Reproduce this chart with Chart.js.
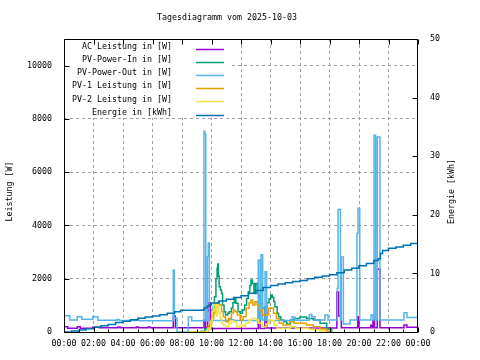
<!doctype html>
<html>
<head>
<title>Tagesdiagramm</title>
<script src="https://cdn.jsdelivr.net/npm/chart.js"></script>
<style>html, body { margin: 0; padding: 0; background: #fff; }</style>
</head>
<body>
<canvas id="tagesdiagramm" width="480" height="360"></canvas>
<script>
// Zeitpunkte in Stunden, Leistung in W, Energie in kWh (Treppenwerte)
const acZeit = [0, 0.25, 0.9, 1.1, 1.95, 2.4, 3.65, 3.8, 4.9, 5.05, 5.7, 5.85, 7.41, 7.55, 9.49, 9.6, 9.74, 9.83, 9.92, 13.17, 13.29, 13.62, 13.74, 18.5, 18.62, 18.8, 19.91, 20.0, 20.8, 20.88, 20.95, 21.05, 21.24, 21.42, 23.05, 23.25, 24];
const acWert = [200, 140, 200, 140, 180, 160, 190, 160, 190, 160, 190, 160, 600, 160, 450, 160, 800, 1100, 130, 900, 130, 950, 150, 1500, 600, 160, 575, 160, 250, 160, 450, 160, 2360, 160, 260, 180, 180];

const inZeit = [8.43, 9.3, 9.55, 9.75, 9.95, 10.05, 10.12, 10.2, 10.3, 10.38, 10.42, 10.47, 10.52, 10.6, 10.68, 10.75, 10.85, 10.95, 11.1, 11.2, 11.35, 11.45, 11.55, 11.65, 11.8, 11.95, 12.1, 12.25, 12.38, 12.5, 12.6, 12.68, 12.78, 12.88, 12.98, 13.1, 13.2, 13.3, 13.45, 13.6, 13.75, 13.9, 14.02, 14.12, 14.22, 14.3, 14.45, 14.55, 14.7, 14.9, 15.1, 15.35, 15.6, 16.0, 16.45, 16.9, 17.36, 17.81, 18.15];
const inWert = [0, 30, 120, 200, 380, 700, 950, 1320, 2000, 2390, 2550, 2100, 1700, 1575, 1450, 1010, 760, 640, 700, 760, 900, 1100, 1260, 1075, 760, 700, 825, 1010, 1260, 1510, 1750, 1950, 1825, 1450, 1825, 1450, 1390, 1075, 900, 950, 1100, 1250, 1390, 1300, 1140, 950, 700, 575, 450, 385, 300, 450, 510, 560, 510, 450, 325, 110, 0];

const outZeit = [0, 0.4, 0.9, 1.2, 1.95, 2.3, 3.6, 3.75, 4.9, 5.1, 7.41, 7.48, 7.66, 8.43, 8.66, 9.49, 9.55, 9.61, 9.72, 9.78, 9.85, 11.2, 11.5, 13.17, 13.29, 13.36, 13.47, 13.63, 13.74, 15.45, 15.65, 16.63, 16.79, 17.02, 17.69, 17.9, 18.53, 18.58, 18.74, 18.8, 18.94, 19.39, 19.86, 19.93, 20.05, 20.81, 20.95, 21.02, 21.13, 21.24, 21.42, 23.05, 23.25, 24];
const outWert = [610, 450, 575, 480, 575, 440, 470, 430, 450, 420, 2330, 520, 0, 560, 420, 7540, 7420, 420, 2820, 3340, 430, 460, 430, 2700, 450, 2900, 450, 2260, 430, 560, 440, 660, 575, 450, 640, 450, 1640, 4600, 450, 2820, 300, 450, 3700, 4650, 450, 640, 450, 7390, 450, 7320, 450, 720, 540, 540];

const pv1Zeit = [8.43, 9.7, 9.8, 10.0, 10.15, 10.24, 10.35, 10.45, 10.52, 10.68, 10.8, 10.95, 11.15, 11.35, 11.48, 11.6, 11.75, 11.95, 12.15, 12.35, 12.55, 12.68, 12.8, 12.95, 13.1, 13.25, 13.45, 13.68, 13.88, 14.05, 14.2, 14.4, 14.6, 14.85, 15.3, 15.6, 16.0, 16.45, 16.9, 17.36, 17.81, 18.1];
const pv1Wert = [0, 30, 260, 510, 700, 890, 1075, 1140, 1010, 760, 575, 385, 510, 700, 825, 760, 640, 450, 575, 890, 1100, 1200, 1010, 1140, 1000, 825, 640, 640, 890, 900, 700, 510, 325, 260, 385, 330, 325, 260, 200, 110, 40, 0];

const pv2Zeit = [8.43, 9.7, 9.75, 9.95, 10.05, 10.15, 10.24, 10.32, 10.38, 10.45, 10.5, 10.58, 10.68, 10.8, 10.95, 11.15, 11.35, 11.5, 11.7, 11.95, 12.15, 12.3, 12.55, 12.7, 12.9, 13.06, 13.2, 13.45, 13.7, 13.9, 14.1, 14.25, 14.45, 14.9, 15.35, 15.7, 16.2, 16.6, 17.0, 17.36, 17.7];
const pv2Wert = [0, 20, 140, 385, 760, 1000, 1100, 600, 800, 950, 700, 510, 325, 260, 200, 325, 420, 380, 200, 260, 220, 325, 450, 510, 500, 450, 325, 200, 300, 450, 420, 260, 140, 140, 200, 140, 140, 100, 75, 40, 0];

const enZeit = [0, 0.5, 1, 1.5, 2, 2.5, 3, 3.5, 4, 4.5, 5, 5.5, 6, 6.5, 7, 7.5, 7.9, 9.35, 9.5, 9.7, 9.85, 10, 10.5, 11, 11.5, 12, 12.5, 13, 13.5, 14, 14.5, 15, 15.5, 16, 16.5, 17, 17.5, 18, 18.5, 19, 19.5, 20, 20.5, 21, 21.3, 21.45, 21.6, 22, 22.5, 23, 23.5, 24];
const enWert = [0, 0.15, 0.35, 0.55, 0.8, 1.05, 1.3, 1.6, 1.85, 2.1, 2.35, 2.55, 2.75, 2.95, 3.2, 3.45, 3.7, 3.75, 4.1, 4.4, 4.7, 4.95, 5.3, 5.6, 5.9, 6.2, 6.6, 7.1, 7.6, 7.95, 8.2, 8.4, 8.6, 8.8, 9.1, 9.35, 9.55, 9.75, 10.1, 10.6, 10.9, 11.3, 11.7, 12.2, 12.5, 13.4, 13.9, 14.3, 14.5, 14.8, 15.1, 15.4];

// Achsenteilung
const stundenTicks = [0, 2, 4, 6, 8, 10, 12, 14, 16, 18, 20, 22, 24];
const leistungTicks = [0, 2000, 4000, 6000, 8000, 10000];
const energieTicks = [0, 10, 20, 30, 40, 50];

const titel = 'Tagesdiagramm vom 2025-10-03';
const achseLinks = 'Leistung [W]';
const achseRechts = 'Energie [kWh]';

const SCHRIFT = '8.3px "DejaVu Sans Mono"';
const tickFont = { family: 'DejaVu Sans Mono', size: 8.3 };

function punkte(zeit, wert) {
  return zeit.map((t, i) => ({ x: t, y: wert[i] }));
}

function reihe(label, zeit, wert, farbe, achse, order) {
  return {
    label: label,
    data: punkte(zeit, wert),
    borderColor: farbe,
    backgroundColor: farbe,
    borderWidth: 1.5,
    pointRadius: 0,
    stepped: true,
    fill: false,
    yAxisID: achse,
    order: order
  };
}

function festeTicks(werte) {
  return s => { s.ticks = werte.map(v => ({ value: v })); };
}

// Rahmen, Innen-Ticks, Legende und Beschriftungen wie bei gnuplot
const rahmen = {
  id: 'rahmen',
  beforeDatasetsDraw(chart) {
    const { ctx, chartArea: ca } = chart;
    ctx.save();
    ctx.fillStyle = '#fff';
    ctx.fillRect(ca.left + 1, ca.top + 1, 165, 78);
    ctx.restore();
  },
  afterDatasetsDraw(chart) {
    const { ctx, chartArea: ca, scales } = chart;
    const l = Math.round(ca.left) + 0.5, r = Math.round(ca.right) - 0.5;
    const t = Math.round(ca.top) + 0.5, b = Math.round(ca.bottom) + 0.5;
    ctx.save();
    ctx.strokeStyle = '#000';
    ctx.lineWidth = 1;
    ctx.beginPath();
    ctx.rect(l, t, r - l, b - t);
    for (let h = 0; h <= 24; h++) {
      const x = Math.round(scales.x.getPixelForValue(h)) + 0.5;
      ctx.moveTo(x, b);
      ctx.lineTo(x, b - (h % 2 ? 3 : 5));
      if (h % 2 === 0) {
        ctx.moveTo(x, t);
        ctx.lineTo(x, t + 5);
      }
    }
    leistungTicks.forEach(v => {
      const y = Math.round(scales.y.getPixelForValue(v)) + 0.5;
      ctx.moveTo(l, y);
      ctx.lineTo(l + 5, y);
    });
    energieTicks.forEach(e => {
      const y = Math.round(scales.y1.getPixelForValue(e)) + 0.5;
      ctx.moveTo(r, y);
      ctx.lineTo(r - 5, y);
    });
    ctx.stroke();

    // Legende
    ctx.font = SCHRIFT;
    ctx.textAlign = 'right';
    ctx.textBaseline = 'middle';
    chart.data.datasets.forEach((ds, i) => {
      const y = ca.top + 8 + i * 13.1;
      ctx.fillStyle = '#000';
      ctx.fillText(ds.label, ca.left + 108, y);
      const ly = Math.round(y + 2) + 0.5;
      ctx.strokeStyle = ds.borderColor;
      ctx.lineWidth = 1.5;
      ctx.beginPath();
      ctx.moveTo(ca.left + 132, ly);
      ctx.lineTo(ca.left + 160, ly);
      ctx.stroke();
    });
    ctx.restore();
  },
  afterDraw(chart) {
    const { ctx, chartArea: ca } = chart;
    const mitte = (ca.top + ca.bottom) / 2 + 6;
    ctx.save();
    ctx.font = SCHRIFT;
    ctx.fillStyle = '#000';
    ctx.textAlign = 'center';
    ctx.textBaseline = 'middle';
    ctx.fillText(titel, (ca.left + ca.right) / 2 - 14, 18);
    ctx.translate(10, mitte);
    ctx.rotate(-Math.PI / 2);
    ctx.fillText(achseLinks, 0, 0);
    ctx.restore();
    ctx.save();
    ctx.font = SCHRIFT;
    ctx.fillStyle = '#000';
    ctx.textAlign = 'center';
    ctx.textBaseline = 'middle';
    ctx.translate(452, mitte);
    ctx.rotate(-Math.PI / 2);
    ctx.fillText(achseRechts, 0, 0);
    ctx.restore();
  }
};

const gitter = '#a0a0a0';

new Chart(document.getElementById('tagesdiagramm').getContext('2d'), {
  type: 'line',
  data: {
    datasets: [
      reihe('AC Leistung in [W]', acZeit, acWert, '#9400d3', 'y', 6),
      reihe('PV-Power-In in [W]', inZeit, inWert, '#009e73', 'y', 5),
      reihe('PV-Power-Out in [W]', outZeit, outWert, '#56b4e9', 'y', 4),
      reihe('PV-1 Leistung in [W]', pv1Zeit, pv1Wert, '#e69f00', 'y', 3),
      reihe('PV-2 Leistung in [W]', pv2Zeit, pv2Wert, '#f0e442', 'y', 2),
      reihe('Energie in [kWh]', enZeit, enWert, '#0072b2', 'y1', 1)
    ]
  },
  options: {
    responsive: false,
    animation: false,
    events: [],
    layout: { padding: { top: 39, left: 0, right: 0, bottom: 0 } },
    plugins: {
      legend: { display: false },
      title: { display: false },
      tooltip: { enabled: false }
    },
    scales: {
      x: {
        type: 'linear',
        min: 0,
        max: 24,
        afterBuildTicks: festeTicks(stundenTicks),
        afterFit: s => { s.height = 28; },
        grid: {
          drawTicks: false,
          color: c => (c.tick && c.tick.value > 0 && c.tick.value < 24) ? gitter : 'rgba(0,0,0,0)'
        },
        border: { display: false, dash: [3, 3] },
        ticks: {
          padding: 7,
          maxRotation: 0,
          autoSkip: false,
          color: '#000',
          font: tickFont,
          callback: v => String(v % 24).padStart(2, '0') + ':00'
        }
      },
      y: {
        position: 'left',
        min: 0,
        max: 11000,
        afterBuildTicks: festeTicks(leistungTicks),
        afterFit: s => { s.width = 64; },
        grid: {
          drawTicks: false,
          color: c => (c.tick && c.tick.value > 0 && c.tick.value < 11000) ? gitter : 'rgba(0,0,0,0)'
        },
        border: { display: false, dash: [3, 3] },
        ticks: {
          padding: 12,
          autoSkip: false,
          color: '#000',
          font: tickFont,
          callback: v => String(v)
        }
      },
      y1: {
        position: 'right',
        min: 0,
        max: 50,
        afterBuildTicks: festeTicks(energieTicks),
        afterFit: s => { s.width = 62; },
        grid: { display: false, drawTicks: false },
        border: { display: false },
        ticks: {
          padding: 12,
          autoSkip: false,
          color: '#000',
          font: tickFont,
          callback: v => String(v)
        }
      }
    }
  },
  plugins: [rahmen]
});
</script>
</body>
</html>
